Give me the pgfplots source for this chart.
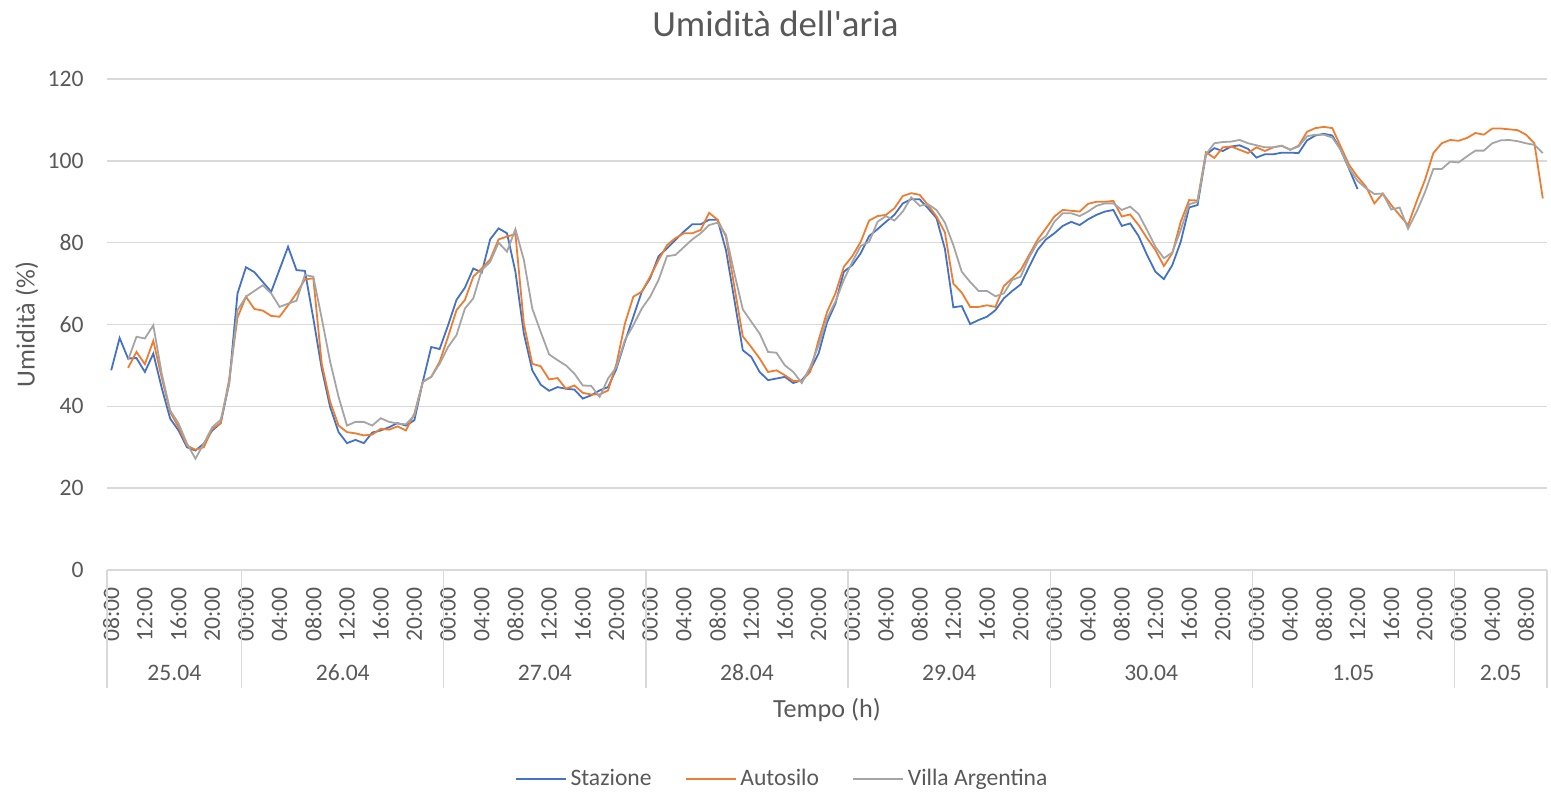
\documentclass[border=0pt]{standalone}
\usepackage{pgfplots}
\pgfplotsset{compat=1.18}
\usepackage{pgfplotstable}
\usepackage{fontspec}
\setmainfont{Carlito}
\definecolor{cS}{HTML}{4472C4}
\definecolor{cA}{HTML}{ED7D31}
\definecolor{cV}{HTML}{A5A5A5}
\definecolor{grd}{HTML}{D9D9D9}
\definecolor{txt}{HTML}{595959}

\pgfplotstableread{
i S A V
0 48.8 nan nan
1 56.7 nan nan
2 51.7 49.4 51.3
3 51.8 53.3 57.0
4 48.4 50.3 56.6
5 52.9 56.0 59.8
6 44.5 47.0 48.0
7 37.0 38.6 39.0
8 34.1 34.9 35.8
9 30.0 30.4 30.9
10 29.2 29.4 27.2
11 30.9 30.0 30.9
12 34.1 34.5 34.9
13 35.9 35.9 36.7
14 45.5 46.5 45.5
15 67.6 61.7 63.5
16 74.0 66.8 66.8
17 72.8 63.8 68.2
18 70.4 63.4 69.6
19 68.0 62.1 67.6
20 73.5 61.9 64.3
21 79.0 64.7 65.1
22 73.3 67.6 65.8
23 73.1 71.0 72.1
24 61.5 71.3 71.7
25 49.2 50.4 61.5
26 39.8 41.1 50.9
27 33.7 35.3 42.3
28 31.0 33.7 35.3
29 31.8 33.4 36.2
30 31.0 32.9 36.2
31 33.6 33.1 35.3
32 34.1 34.5 37.1
33 34.9 34.3 36.2
34 35.9 35.1 35.8
35 35.3 34.1 35.6
36 36.6 38.2 37.8
37 46.0 46.0 46.0
38 54.5 47.2 47.2
39 54.0 50.9 50.4
40 59.8 57.0 54.5
41 66.0 63.5 57.4
42 69.0 66.0 63.9
43 73.7 71.7 66.4
44 72.7 73.7 73.3
45 80.8 75.9 75.3
46 83.5 80.8 80.0
47 82.3 81.5 77.8
48 72.9 82.1 83.3
49 57.8 60.2 75.8
50 48.8 50.4 63.9
51 45.3 49.8 58.2
52 43.8 46.6 52.7
53 44.7 46.9 51.3
54 44.3 44.3 50.0
55 44.1 45.1 48.0
56 41.9 43.3 45.1
57 42.7 42.9 45.0
58 43.9 42.9 42.3
59 44.7 43.9 46.8
60 49.2 50.4 49.6
61 55.8 60.2 56.2
62 61.9 66.8 59.8
63 68.0 68.0 63.9
64 71.3 71.7 66.8
65 76.7 75.8 70.9
66 78.6 79.4 76.7
67 80.7 81.1 77.0
68 82.7 82.3 78.9
69 84.5 82.3 80.8
70 84.5 83.1 82.3
71 85.6 87.3 84.3
72 85.6 85.6 84.9
73 78.2 81.5 81.9
74 66.0 69.2 72.5
75 53.7 57.1 63.7
76 52.1 54.5 60.7
77 48.4 51.7 57.8
78 46.4 48.4 53.3
79 46.8 48.8 53.1
80 47.2 47.6 50.0
81 45.7 46.2 48.4
82 46.4 46.2 45.7
83 48.8 48.4 49.6
84 52.9 56.2 54.9
85 60.5 63.0 61.5
86 65.1 67.6 65.6
87 72.9 74.1 70.9
88 74.5 76.7 75.3
89 77.4 80.2 79.2
90 81.6 85.4 80.2
91 83.3 86.5 85.1
92 85.1 86.8 86.5
93 86.8 88.4 85.4
94 89.6 91.4 87.6
95 90.6 92.1 91.1
96 90.6 91.7 89.0
97 88.4 89.2 89.4
98 86.0 86.4 88.0
99 78.5 82.5 84.9
100 64.2 70.0 79.4
101 64.5 67.8 72.9
102 60.1 64.3 70.4
103 61.1 64.3 68.2
104 61.9 64.7 68.2
105 63.5 64.3 66.9
106 66.4 69.4 67.6
107 68.2 71.3 70.9
108 69.8 73.3 71.7
109 74.1 77.0 76.4
110 78.2 80.7 80.0
111 80.8 83.5 81.6
112 82.3 86.4 85.1
113 84.1 88.0 87.2
114 85.1 87.8 87.2
115 84.3 87.6 86.5
116 85.7 89.5 87.6
117 86.8 90.0 89.0
118 87.6 90.0 89.6
119 88.0 90.2 89.6
120 84.1 86.4 88.0
121 84.7 86.9 88.8
122 81.6 84.3 87.0
123 77.0 81.1 83.1
124 72.9 78.2 79.0
125 71.1 74.3 76.2
126 74.5 77.4 77.6
127 80.2 85.1 83.1
128 88.6 90.4 89.4
129 89.2 90.3 90.0
130 101.5 102.1 101.6
131 103.1 100.7 104.3
132 102.4 103.3 104.6
133 103.5 103.5 104.7
134 103.8 102.7 105.1
135 102.9 101.9 104.3
136 100.8 103.3 103.8
137 101.6 102.4 103.3
138 101.6 103.3 103.3
139 102.0 103.7 103.7
140 102.0 102.7 102.7
141 101.9 103.7 103.5
142 105.0 107.1 106.0
143 106.2 108.0 106.4
144 106.6 108.3 106.4
145 106.2 108.0 105.7
146 102.7 103.5 102.7
147 98.0 99.0 98.2
148 93.1 96.1 95.1
149 nan 93.7 93.3
150 nan 89.6 91.9
151 nan 92.0 92.0
152 nan 89.2 88.1
153 nan 86.7 88.6
154 nan 84.3 83.4
155 nan 90.0 87.5
156 nan 95.3 92.3
157 nan 101.9 98.0
158 nan 104.3 98.0
159 nan 105.1 99.8
160 nan 104.9 99.6
161 nan 105.6 101.1
162 nan 106.8 102.5
163 nan 106.4 102.5
164 nan 107.9 104.3
165 nan 107.9 105.0
166 nan 107.7 105.1
167 nan 107.5 104.8
168 nan 106.4 104.3
169 nan 104.3 103.9
170 nan 90.8 101.9
}\datatable

\newcommand{\tfont}{\fontsize{11.8}{14}\selectfont}

\begin{document}
\begin{tikzpicture}
\begin{axis}[
  width=720pt, height=245.5pt, scale only axis,
  xmin=-0.5, xmax=170.5, ymin=0, ymax=120,
  clip=false,
  axis line style={draw=none},
  tick style={draw=none},
  major tick length=0pt,
  ytick={0,20,...,120},
  ymajorgrids,
  major grid style={color=grd, line width=0.8pt},
  xtick={0,4,...,168},
  xticklabels={08:00,12:00,16:00,20:00,
    00:00,04:00,08:00,12:00,16:00,20:00,
    00:00,04:00,08:00,12:00,16:00,20:00,
    00:00,04:00,08:00,12:00,16:00,20:00,
    00:00,04:00,08:00,12:00,16:00,20:00,
    00:00,04:00,08:00,12:00,16:00,20:00,
    00:00,04:00,08:00,12:00,16:00,20:00,
    00:00,04:00,08:00},
  xticklabel style={rotate=90, anchor=east, inner sep=0pt, font=\tfont, text=txt},
  xticklabel shift=8.5pt,
  yticklabel style={anchor=east, inner sep=0pt, font=\tfont, text=txt},
  yticklabel shift=11.5pt,
  /pgf/number format/assume math mode=true,
  ylabel={Umidità (\%)},
  ylabel style={at={(axis description cs:-0.0556,0.5)}, anchor=center, font=\fontsize{13.1}{15}\selectfont, text=txt},
  xlabel={Tempo (h)},
  xlabel style={at={(axis description cs:0.5,-0.285)}, anchor=center, font=\fontsize{13.1}{15}\selectfont, text=txt},
  title={Umidità dell\textquotesingle aria},
  title style={at={(axis description cs:0.4642,1.088)}, anchor=center, font=\fontsize{18.4}{21}\selectfont, text=txt},
  legend style={at={(axis description cs:0.4695,-0.4257)}, anchor=center, draw=none, legend columns=3,
    font=\tfont, text=txt, /tikz/every odd column/.append style={column sep=0pt},
    /tikz/every even column/.append style={column sep=14.5pt}},
  legend image code/.code={\draw[#1] (0pt,0pt) -- (25pt,0pt);},
  every axis plot/.append style={line width=0.9pt},
]
\addplot[cS, mark=none] table[x=i, y=S] {\datatable};
\addlegendentry{Stazione}
\addplot[cA, mark=none] table[x=i, y=A] {\datatable};
\addlegendentry{Autosilo}
\addplot[cV, mark=none] table[x=i, y=V] {\datatable};
\addlegendentry{Villa Argentina}

\draw[grd, line width=0.6pt] (axis cs:-0.5,0) -- ++(0pt,-59pt);
\draw[grd, line width=0.6pt] (axis cs:15.5,0) -- ++(0pt,-59pt);
\draw[grd, line width=0.6pt] (axis cs:39.5,0) -- ++(0pt,-59pt);
\draw[grd, line width=0.6pt] (axis cs:63.5,0) -- ++(0pt,-59pt);
\draw[grd, line width=0.6pt] (axis cs:87.5,0) -- ++(0pt,-59pt);
\draw[grd, line width=0.6pt] (axis cs:111.5,0) -- ++(0pt,-59pt);
\draw[grd, line width=0.6pt] (axis cs:135.5,0) -- ++(0pt,-59pt);
\draw[grd, line width=0.6pt] (axis cs:159.5,0) -- ++(0pt,-59pt);
\draw[grd, line width=0.6pt] (axis cs:170.5,0) -- ++(0pt,-59pt);
\node[font=\tfont, text=txt, anchor=center, yshift=-51.5pt] at (axis cs:7.5,0) {25.04};
\node[font=\tfont, text=txt, anchor=center, yshift=-51.5pt] at (axis cs:27.5,0) {26.04};
\node[font=\tfont, text=txt, anchor=center, yshift=-51.5pt] at (axis cs:51.5,0) {27.04};
\node[font=\tfont, text=txt, anchor=center, yshift=-51.5pt] at (axis cs:75.5,0) {28.04};
\node[font=\tfont, text=txt, anchor=center, yshift=-51.5pt] at (axis cs:99.5,0) {29.04};
\node[font=\tfont, text=txt, anchor=center, yshift=-51.5pt] at (axis cs:123.5,0) {30.04};
\node[font=\tfont, text=txt, anchor=center, yshift=-51.5pt] at (axis cs:147.5,0) {1.05};
\node[font=\tfont, text=txt, anchor=center, yshift=-51.5pt] at (axis cs:165,0) {2.05};
\end{axis}
\pgfresetboundingbox
\path[use as bounding box] (current axis.south west) ++(-53.5pt,-112pt) rectangle ++(775.5pt,397pt);
\end{tikzpicture}
\end{document}
